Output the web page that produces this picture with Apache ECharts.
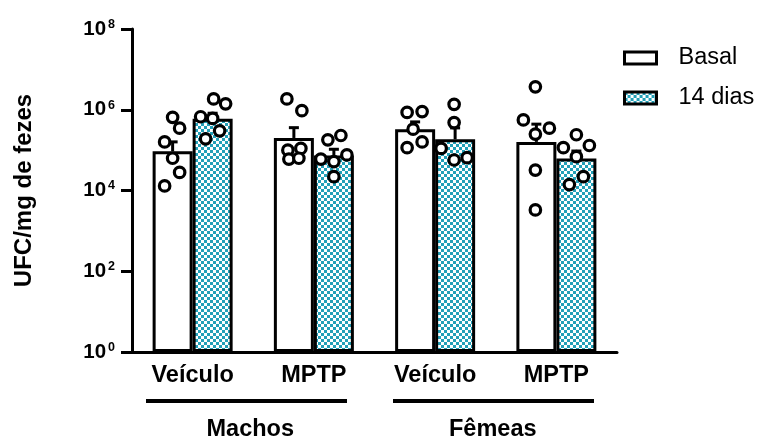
<!DOCTYPE html>
<html><head><meta charset="utf-8">
<script src="https://cdn.jsdelivr.net/npm/echarts@6/dist/echarts.min.js"></script>
<style>html,body{margin:0;padding:0;background:#fff}#c{width:763px;height:436px}</style>
</head><body><div id="c"></div>
<script>
const categories = ['Veículo', 'MPTP', 'Veículo', 'MPTP'];
const groups = ['Machos', 'Fêmeas'];
const seriesNames = ['Basal', '14 dias'];
const yTicks = [1, 1e2, 1e4, 1e6, 1e8];
const basalMean = [9.4e4, 2.0e5, 3.3e5, 1.6e5];
const basalUpper = [1.6e5, 3.6e5, 5.0e5, 4.4e5];
const d14Mean = [6.0e5, 7.4e4, 1.85e5, 6.2e4];
const d14Upper = [8.2e5, 1.05e5, 3.55e5, 9.5e4];
const basalPoints = [
  [6.5e5, 3.5e5, 1.6e5, 6.3e4, 2.8e4, 1.3e4],
  [1.85e6, 9.5e5, 1.0e5, 1.1e5, 6.0e4, 6.3e4],
  [8.6e5, 9.0e5, 3.3e5, 1.6e5, 1.15e5],
  [3.7e6, 5.6e5, 3.5e5, 2.5e5, 3.2e4, 3.3e3]
];
const d14Points = [
  [1.85e6, 1.4e6, 6.7e5, 6.1e5, 3.0e5, 1.9e5],
  [1.8e5, 2.3e5, 6.0e4, 5.2e4, 7.6e4, 2.2e4],
  [1.36e6, 4.8e5, 1.1e5, 5.7e4, 6.5e4],
  [2.4e5, 1.3e5, 1.15e5, 6.9e4, 2.2e4, 1.4e4]
];
// layout only: horizontal jitter of each dot, px from its bar centre
const basalJitter = [[0, 7, -8, 0, 7, -8], [-7, 8, -6, 7, -5, 5], [-8, 7, -2, 7, -8], [-1, -13, 13, -1, -1, -1]];
const d14Jitter = [[1, 13, -12, 0, 7, -7], [-6, 7, -13, 0, 13, 0], [-1, -1, -14, -1, 12], [0, 13, -13, 0, 7, -7]];

const FONT = "'Liberation Sans', Arial, Helvetica, sans-serif";
const BAR_W = 40;

const pc = document.createElement('canvas');
pc.width = 6; pc.height = 6;
const pctx = pc.getContext('2d');
pctx.fillStyle = '#ffffff'; pctx.fillRect(0, 0, 6, 6);
pctx.fillStyle = '#22a0b8'; pctx.fillRect(0, 0, 3, 3); pctx.fillRect(3, 3, 3, 3);
const pattern = { image: pc, repeat: 'repeat' };

function dots(points, jit, off) {
  const out = [];
  points.forEach((arr, g) => arr.forEach((v, k) => out.push({ value: [g, v], symbolOffset: [off + jit[g][k], 0] })));
  return out;
}
function errSeries(mean, upper, off) {
  return {
    type: 'custom', z: 3, silent: true,
    data: mean.map((m, g) => [g, m, upper[g]]),
    encode: { x: 0, y: [1, 2] },
    renderItem: (params, api) => {
      const g = api.value(0);
      const p0 = api.coord([g, api.value(1)]);
      const p1 = api.coord([g, api.value(2)]);
      const x = p0[0] + off;
      return { type: 'group', children: [
        { type: 'line', shape: { x1: x, y1: p0[1], x2: x, y2: p1[1] }, style: { stroke: '#000', lineWidth: 3 } },
        { type: 'line', shape: { x1: x - 5, y1: p1[1], x2: x + 5, y2: p1[1] }, style: { stroke: '#000', lineWidth: 3 } }
      ] };
    }
  };
}

const chart = echarts.init(document.getElementById('c'), null, { renderer: 'canvas' });
chart.setOption({
  animation: false,
  backgroundColor: '#fff',
  textStyle: { fontFamily: FONT },
  grid: { left: 132, right: 146, top: 29, bottom: 84, containLabel: false, outerBoundsMode: 'none' },
  legend: {
    data: seriesNames, orient: 'vertical', left: 623, top: 46, icon: 'rect', padding: 0,
    itemWidth: 32, itemHeight: 12, itemGap: 16, selectedMode: false,
    itemStyle: { borderColor: '#000', borderWidth: 3 },
    textStyle: { fontFamily: FONT, fontSize: 23.5, color: '#000', lineHeight: 23, padding: [0, 0, 0, 17] }
  },
  xAxis: [{
    type: 'category', data: categories,
    axisLine: { lineStyle: { color: '#000', width: 3 } },
    axisTick: { show: false },
    axisLabel: { color: '#000', fontSize: 23.5, fontWeight: 'bold', fontFamily: FONT, margin: 12 }
  }, {
    type: 'category', data: groups, position: 'bottom',
    axisLine: { show: false }, axisTick: { show: false }, splitLine: { show: false },
    axisLabel: { color: '#000', fontSize: 23.5, fontWeight: 'bold', fontFamily: FONT, margin: 66, padding: [0, 6, 0, 0] }
  }],
  yAxis: {
    type: 'log', logBase: 10, min: 1, max: 1e8,
    name: 'UFC/mg de fezes', nameLocation: 'middle', nameGap: 96, nameRotate: 90,
    nameTextStyle: { color: '#000', fontSize: 24, fontWeight: 'bold', fontFamily: FONT },
    axisLine: { show: true, lineStyle: { color: '#000', width: 3 } },
    axisTick: { show: true, length: 11, lineStyle: { color: '#000', width: 3 }, customValues: yTicks },
    splitLine: { show: false },
    axisLabel: {
      customValues: yTicks, margin: 17, color: '#000',
      formatter: v => '{b|10}{s|' + Math.round(Math.log10(v)) + '}',
      rich: {
        b: { fontSize: 20.5, fontWeight: 'bold', fontFamily: FONT, color: '#000', lineHeight: 22 },
        s: { fontSize: 12.5, fontWeight: 'bold', fontFamily: FONT, color: '#000', lineHeight: 13, verticalAlign: 'top', padding: [0, 0, 0, 2] }
      }
    }
  },
  series: [
    { name: seriesNames[0], type: 'bar', data: basalMean, barWidth: BAR_W, barGap: '0%', z: 2,
      itemStyle: { color: '#fff', borderColor: '#000', borderWidth: 3 } },
    { name: seriesNames[1], type: 'bar', data: d14Mean, barWidth: BAR_W, barGap: '0%', z: 2,
      itemStyle: { color: pattern, borderColor: '#000', borderWidth: 3 } },
    errSeries(basalMean, basalUpper, -BAR_W / 2),
    errSeries(d14Mean, d14Upper, BAR_W / 2),
    { type: 'scatter', z: 4, symbol: 'circle', symbolSize: 10.5, data: dots(basalPoints, basalJitter, -BAR_W / 2),
      itemStyle: { color: '#fff', borderColor: '#000', borderWidth: 3.2, opacity: 1 } },
    { type: 'scatter', z: 4, symbol: 'circle', symbolSize: 10.5, data: dots(d14Points, d14Jitter, BAR_W / 2),
      itemStyle: { color: '#fff', borderColor: '#000', borderWidth: 3.2, opacity: 1 } }
  ],
  graphic: [
    { type: 'line', shape: { x1: 146, y1: 401, x2: 347, y2: 401 }, style: { stroke: '#000', lineWidth: 4 } },
    { type: 'line', shape: { x1: 393, y1: 401, x2: 594, y2: 401 }, style: { stroke: '#000', lineWidth: 4 } }
  ]
});
</script></body></html>
